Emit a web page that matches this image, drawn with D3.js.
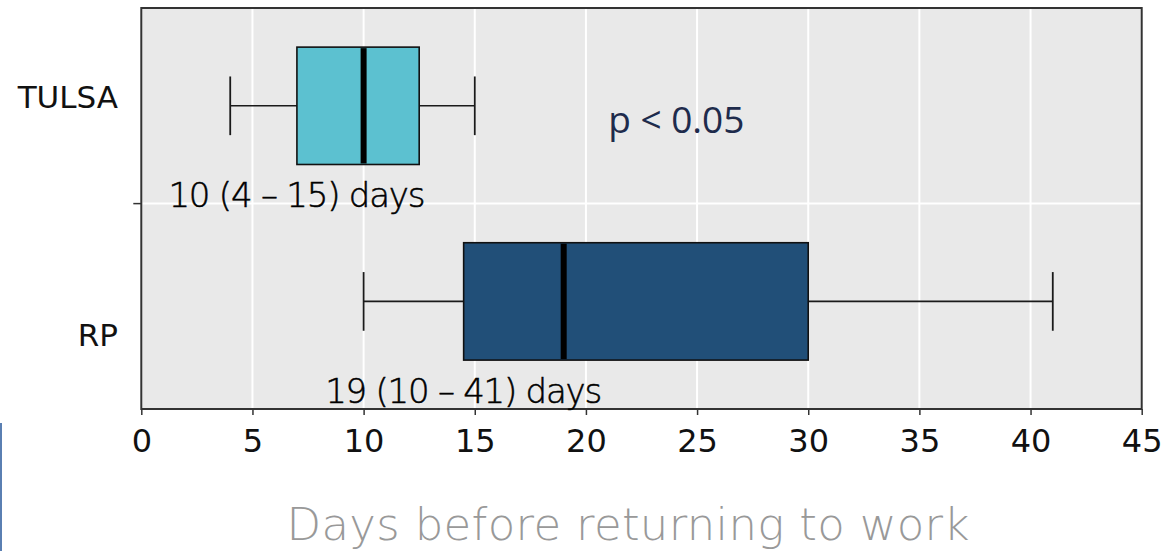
<!DOCTYPE html>
<html>
<head>
<meta charset="utf-8">
<script src="https://cdn.jsdelivr.net/npm/d3@7"></script>
<style>
  html, body { margin: 0; padding: 0; background: #ffffff; }
  svg { display: block; }
</style>
</head>
<body>
<svg id="chart" width="1163" height="551"></svg>
<script>
// Days before returning to work, per group (box plot summary)
const categories   = ["TULSA", "RP"];
const whiskerLow   = [4, 10];
const quartile1    = [7, 14.5];
const medians      = [10, 19];
const quartile3    = [12.5, 30];
const whiskerHigh  = [15, 41];
const xTickValues  = [0, 5, 10, 15, 20, 25, 30, 35, 40, 45];
const pValueText   = "p < 0.05";
const axisTitle    = "Days before returning to work";

const boxFill = ["#5cc1d0", "#214f78"];

const svg = d3.select("#chart");
const W = 1163, H = 551;
const plot = { left: 141.3, right: 1141.7, top: 8, bottom: 409 };

const x = d3.scaleLinear().domain([0, 45]).range([plot.left, plot.right]);
// categories sit at positions 0 and 1 along the vertical axis
const y = d3.scaleLinear().domain([-0.5, 1.55]).range([plot.top, plot.bottom]);
const boxHalf = 0.3;

// panel background
svg.append("rect")
  .attr("x", plot.left).attr("y", plot.top)
  .attr("width", plot.right - plot.left).attr("height", plot.bottom - plot.top)
  .attr("fill", "#e9e9e9");

// grid
svg.append("g").selectAll("line").data(xTickValues).join("line")
  .attr("x1", d => x(d)).attr("x2", d => x(d))
  .attr("y1", plot.top).attr("y2", plot.bottom)
  .attr("stroke", "#ffffff").attr("stroke-width", 2);
svg.append("line")
  .attr("x1", plot.left).attr("x2", plot.right)
  .attr("y1", y(0.5)).attr("y2", y(0.5))
  .attr("stroke", "#ffffff").attr("stroke-width", 2);

// boxes
const idx = d3.range(categories.length);
const g = svg.append("g");
idx.forEach(i => {
  const cy = y(i);
  const top = y(i - boxHalf), bot = y(i + boxHalf);
  const capTop = y(i - boxHalf / 2), capBot = y(i + boxHalf / 2);
  const stroke = "#1a1a1a";
  // whisker lines
  g.append("line").attr("x1", x(whiskerLow[i])).attr("x2", x(quartile1[i]))
    .attr("y1", cy).attr("y2", cy).attr("stroke", stroke).attr("stroke-width", 1.6);
  g.append("line").attr("x1", x(quartile3[i])).attr("x2", x(whiskerHigh[i]))
    .attr("y1", cy).attr("y2", cy).attr("stroke", stroke).attr("stroke-width", 1.6);
  // caps
  g.append("line").attr("x1", x(whiskerLow[i])).attr("x2", x(whiskerLow[i]))
    .attr("y1", capTop).attr("y2", capBot).attr("stroke", stroke).attr("stroke-width", 1.8);
  g.append("line").attr("x1", x(whiskerHigh[i])).attr("x2", x(whiskerHigh[i]))
    .attr("y1", capTop).attr("y2", capBot).attr("stroke", stroke).attr("stroke-width", 1.8);
  // box
  g.append("rect")
    .attr("x", x(quartile1[i])).attr("y", top)
    .attr("width", x(quartile3[i]) - x(quartile1[i])).attr("height", bot - top)
    .attr("fill", boxFill[i]).attr("stroke", "#111").attr("stroke-width", 1.6);
  // median
  g.append("line").attr("x1", x(medians[i])).attr("x2", x(medians[i]))
    .attr("y1", top + 1).attr("y2", bot - 1)
    .attr("stroke", "#000").attr("stroke-width", 6);
});

// frame
svg.append("rect")
  .attr("x", plot.left).attr("y", plot.top)
  .attr("width", plot.right - plot.left).attr("height", plot.bottom - plot.top)
  .attr("fill", "none").attr("stroke", "#333").attr("stroke-width", 2);

// x axis
const xAxis = d3.axisBottom(x).tickValues(xTickValues).tickSize(6).tickPadding(6).tickFormat(d3.format("d"));
const ax = svg.append("g").attr("transform", `translate(0,${plot.bottom})`).call(xAxis);
ax.select(".domain").remove();
ax.selectAll(".tick line").attr("stroke", "#333").attr("stroke-width", 1.5);
ax.selectAll(".tick text")
  .attr("font-family", "DejaVu Sans, sans-serif").attr("font-size", 32)
  .attr("fill", "#111").attr("dy", "0.71em").attr("y", 20);

// single minor tick on the left between the groups
svg.append("line")
  .attr("x1", plot.left - 8).attr("x2", plot.left)
  .attr("y1", y(0.5)).attr("y2", y(0.5))
  .attr("stroke", "#333").attr("stroke-width", 1.5);

// category labels
const labelShift = [2, 44.5];
svg.append("g").selectAll("text").data(idx).join("text")
  .attr("x", 118).attr("y", i => y(i) + labelShift[i])
  .attr("text-anchor", "end")
  .attr("font-family", "DejaVu Sans, sans-serif").attr("font-size", 31)
  .attr("fill", "#111")
  .text(i => categories[i]);

// median (range) annotations under each box
const summaryLength = [257, 277];
svg.append("g").selectAll("text").data(idx).join("text")
  .attr("x", i => x(quartile1[i])).attr("y", i => y(i + boxHalf) + 43)
  .attr("text-anchor", "middle")
  .attr("font-family", "DejaVu Sans, sans-serif").attr("font-weight", 200).attr("font-size", 34)
  .attr("fill", "#000")
  .attr("stroke", "#000").attr("stroke-width", 0.5)
  .attr("textLength", i => summaryLength[i])
  .text(i => `${medians[i]} (${whiskerLow[i]} – ${whiskerHigh[i]}) days`);

// significance note
svg.append("text")
  .attr("x", x(21)).attr("y", y(0) + 27)
  .attr("font-family", "Open Sans, sans-serif").attr("font-size", 37)
  .attr("fill", "#1e2b4c")
  .text(pValueText);

// axis title
svg.append("text")
  .attr("x", 628).attr("y", 540)
  .attr("text-anchor", "middle")
  .attr("font-family", "DejaVu Sans, sans-serif").attr("font-weight", 200).attr("font-size", 45)
  .attr("fill", "#999999")
  .attr("textLength", 683)
  .text(axisTitle);

// slide accent rule at the left edge
svg.append("line")
  .attr("x1", 1).attr("x2", 1).attr("y1", 423).attr("y2", H)
  .attr("stroke", "#5a7fb2").attr("stroke-width", 2);
</script>
</body>
</html>
